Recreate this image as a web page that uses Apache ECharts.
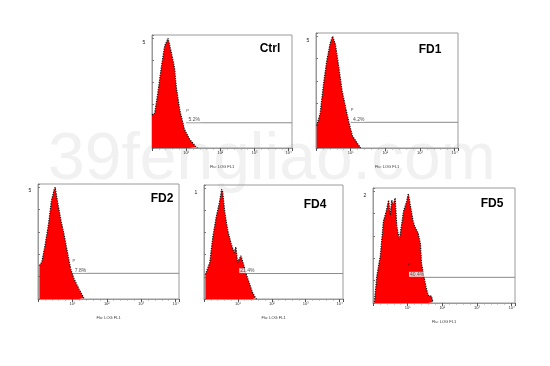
<!DOCTYPE html>
<html><head><meta charset="utf-8">
<script src="https://cdn.jsdelivr.net/npm/echarts@6/dist/echarts.min.js"></script>
<style>html,body{margin:0;padding:0;background:#fff}#c{width:550px;height:366px}</style>
</head><body><div id="c"></div>
<script>
// ---- data ----
const panelNames = ['Ctrl', 'FD1', 'FD2', 'FD4', 'FD5'];
const yMaxLabels = ['5', '5', '5', '1', '2'];
const gatePercents = ['5.2%', '4.2%', '7.8%', '21.4%', '40.4%'];
const xTickLabels = ['', '10¹', '10²', '10³', '10⁴'];
const xTitle = 'Flu: LOG FL1';
const gateStart = 1.0;
const gateLevel = 0.23;

// log10 fluorescence (x) and relative counts (y)
const ctrlX = [0, 0.08, 0.17, 0.27, 0.37, 0.47, 0.56, 0.66, 0.71, 0.81, 0.95, 1.10, 1.29, 1.33];
const ctrlY = [0.30, 0.32, 0.50, 0.73, 0.93, 1.00, 0.88, 0.73, 0.56, 0.35, 0.17, 0.08, 0.01, 0];
const fd1X = [0.02, 0.12, 0.22, 0.31, 0.41, 0.48, 0.56, 0.66, 0.75, 0.85, 0.95, 1.05, 1.20, 1.29];
const fd1Y = [0.20, 0.31, 0.58, 0.78, 0.94, 1.00, 0.93, 0.72, 0.52, 0.37, 0.23, 0.11, 0.04, 0];
const fd2X = [0.04, 0.11, 0.21, 0.30, 0.39, 0.47, 0.50, 0.58, 0.67, 0.77, 0.86, 0.95, 1.05, 1.19, 1.33, 1.36];
const fd2Y = [0.30, 0.33, 0.49, 0.66, 0.88, 0.98, 1.00, 0.85, 0.70, 0.56, 0.41, 0.27, 0.18, 0.09, 0.01, 0];
const fd4X = [0.04, 0.17, 0.26, 0.36, 0.46, 0.52, 0.55, 0.62, 0.70, 0.80, 0.89, 0.94, 0.99, 1.09, 1.18, 1.23, 1.33, 1.43, 1.52, 1.55];
const fd4Y = [0.22, 0.33, 0.56, 0.74, 0.88, 0.99, 0.97, 0.77, 0.62, 0.50, 0.42, 0.47, 0.33, 0.39, 0.30, 0.24, 0.15, 0.06, 0.01, 0];
const fd5X = [0.04, 0.11, 0.21, 0.30, 0.38, 0.45, 0.50, 0.54, 0.59, 0.64, 0.69, 0.76, 0.83, 0.88, 0.97, 1.02, 1.07, 1.11, 1.16, 1.21, 1.30, 1.37, 1.40, 1.45, 1.52, 1.59, 1.69, 1.73];
const fd5Y = [0.01, 0.24, 0.42, 0.73, 0.82, 0.92, 0.79, 0.92, 0.88, 0.94, 0.68, 0.57, 0.71, 0.82, 0.91, 0.98, 0.99, 0.82, 0.73, 0.68, 0.63, 0.53, 0.36, 0.27, 0.16, 0.07, 0.06, 0.01];

const panelX = [ctrlX, fd1X, fd2X, fd4X, fd5X];
const panelY = [ctrlY, fd1Y, fd2Y, fd4Y, fd5Y];

// ---- layout ----
const layout = [
  {left: 152, top: 35, width: 140, height: 113, tx: 270, ty: 49, ly: 43},
  {left: 316, top: 33, width: 142, height: 115, tx: 430, ty: 50, ly: 41},
  {left: 38, top: 184, width: 141, height: 115, tx: 162, ty: 199, ly: 191},
  {left: 204, top: 185, width: 139, height: 114, tx: 315, ty: 205, ly: 193},
  {left: 373, top: 188, width: 142, height: 115, tx: 492, ty: 204, ly: 196}
];

const grids = [], xAxes = [], yAxes = [], series = [], graphics = [];

graphics.push({
  type: 'text', left: 48, top: 128, z: -10,
  style: {text: '39fengliao.com', fontSize: 66, fontFamily: 'Liberation Sans', fill: '#f1f1f1'}
});

panelNames.forEach((name, i) => {
  const L = layout[i];
  grids.push({left: L.left, top: L.top, width: L.width, height: L.height,
    show: true, borderColor: '#9a9a9a', borderWidth: 1, backgroundColor: 'transparent'});
  xAxes.push({
    type: 'value', gridIndex: i, min: 0, max: 4.1, interval: 1,
    name: xTitle, nameLocation: 'middle', nameGap: 17,
    nameTextStyle: {fontSize: 4, color: '#333', fontFamily: 'Liberation Sans'},
    axisLine: {show: true, lineStyle: {color: '#9a9a9a'}},
    axisTick: {show: true, length: 3, lineStyle: {color: '#555'}},
    minorTick: {show: true, splitNumber: 5, length: 1.5, lineStyle: {color: '#999'}},
    axisLabel: {fontSize: 4, color: '#333', margin: 3, showMaxLabel: false,
      formatter: v => (Number.isInteger(v) ? (xTickLabels[v] || '') : '')},
    splitLine: {show: false}
  });
  yAxes.push({
    type: 'value', gridIndex: i, min: 0, max: 1.03, interval: 0.2,
    axisLine: {show: true, lineStyle: {color: '#9a9a9a'}},
    axisTick: {show: true, inside: true, length: 2, lineStyle: {color: '#777'}},
    axisLabel: {show: false},
    splitLine: {show: false}
  });
  const xs = panelX[i], ys = panelY[i];
  series.push({
    type: 'line', xAxisIndex: i, yAxisIndex: i, symbol: 'none', smooth: false,
    data: xs.map((x, k) => [x, ys[k]]),
    lineStyle: {color: '#111', width: 1.2, type: 'dotted'},
    areaStyle: {color: '#ff0000', opacity: 1},
    z: 3
  });
  series.push({
    type: 'line', xAxisIndex: i, yAxisIndex: i, symbol: 'none',
    data: [[gateStart, gateLevel], [4.1, gateLevel]],
    lineStyle: {color: '#8a8a8a', width: 1}, z: 2, silent: true
  });
  series.push({
    type: 'scatter', xAxisIndex: i, yAxisIndex: i, symbolSize: 0,
    data: [[gateStart + 0.04, gateLevel]],
    label: {show: true, position: 'right', distance: 0, offset: [0, -3],
      formatter: gatePercents[i], fontSize: 5, color: '#222', fontFamily: 'Liberation Sans',
      backgroundColor: '#fff', padding: [0, 1]},
    z: 5
  });
  series.push({
    type: 'scatter', xAxisIndex: i, yAxisIndex: i, symbolSize: 0,
    data: [[gateStart, gateLevel + 0.11]],
    label: {show: true, position: 'right', distance: 0, formatter: 'P',
      fontSize: 4, color: '#222', fontFamily: 'Liberation Sans'},
    z: 5
  });
  graphics.push({
    type: 'text', x: L.tx, y: L.ty,
    style: {text: name, fontSize: 12, fontWeight: 'bold', fontFamily: 'Liberation Sans',
      fill: '#000', align: 'center', verticalAlign: 'middle'}
  });
  graphics.push({
    type: 'text', x: L.left - 8, y: L.ly,
    style: {text: yMaxLabels[i], fontSize: 5, fontFamily: 'Liberation Sans',
      fill: '#222', align: 'center', verticalAlign: 'middle'}
  });
});

const chart = echarts.init(document.getElementById('c'), null, {renderer: 'canvas'});
chart.setOption({
  backgroundColor: '#fff',
  animation: false,
  grid: grids, xAxis: xAxes, yAxis: yAxes, series: series, graphic: graphics
});
</script>
</body></html>
